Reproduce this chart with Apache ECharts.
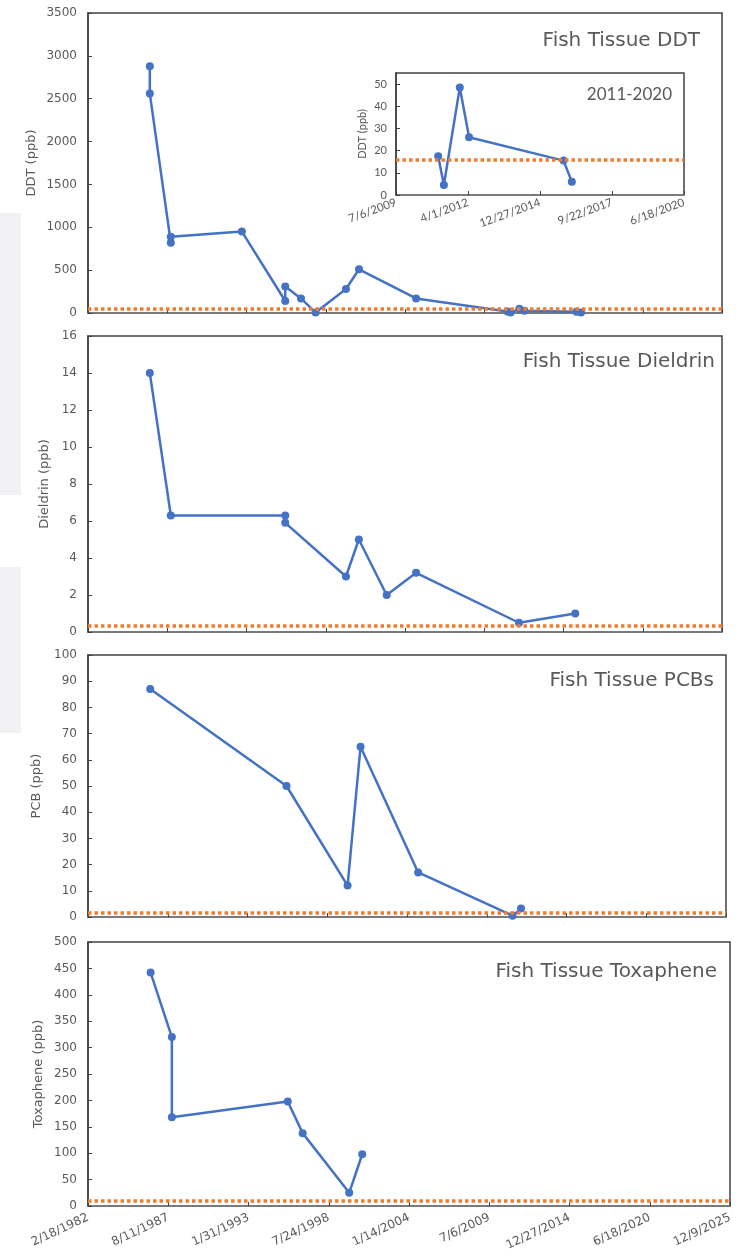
<!DOCTYPE html>
<html><head><meta charset="utf-8">
<script src="https://cdn.jsdelivr.net/npm/echarts@6/dist/echarts.min.js"></script>
<style>html,body{margin:0;padding:0;background:#fff}#c{width:738px;height:1255px}</style>
</head><body><div id="c"></div>
<script>
// x values are Excel date serial numbers (days since 12/30/1899)
const xTickLabels = ['2/18/1982','8/11/1987','1/31/1993','7/24/1998','1/14/2004','7/6/2009','12/27/2014','6/18/2020','12/9/2025'];
const insetTickLabels = ['7/6/2009','4/1/2012','12/27/2014','9/22/2017','6/18/2020'];

const ddtDates  = [31560,31560,32090,32090,33884,34978,34978,35375,35743,36510,36840,38280,40586,40665,40886,41015,42327,42442];
const ddtValues = [2880, 2560, 820,  890,  950,  140,  310,  170,  5,    280,  510,  170,  17.5, 4.5,  48.5, 26,   15.5, 6];
const ddtThreshold = 45;

const insetDates  = [40586,40665,40886,41015,42327,42442];
const insetValues = [17.5, 4.5,  48.5, 26,   15.5, 6];
const insetThreshold = 16;

const dieldrinDates  = [31560,32090,34978,34978,36510,36835,37538,38280,40876,42296];
const dieldrinValues = [14,   6.3,  6.3,  5.9,  3.0,  5.0,  2.0,  3.2,  0.5,  1.0];
const dieldrinThreshold = 0.35;

const pcbDates  = [31560,34978,36510,36835,38280,40647,40859];
const pcbValues = [87,   50,   12,   65,   17,   0.5,  3.2];
const pcbThreshold = 1.5;

const toxDates  = [31560,32090,32090,34978,35350,36510,36835];
const toxValues = [442,  320,  168,  198,  138,  25,   98];
const toxThreshold = 10;

const titles = ['Fish Tissue DDT','Fish Tissue Dieldrin','Fish Tissue PCBs','Fish Tissue Toxaphene','2011-2020'];
const yNames = ['DDT (ppb)','Dieldrin (ppb)','PCB (ppb)','Toxaphene (ppb)','DDT (ppb)'];

const BLUE = '#4472C4', ORANGE = '#ED7D31', TXT = '#595959', FRAME = '#404040';
const FONT = '"DejaVu Sans", sans-serif';
const IFONT = 'Lato, sans-serif';

const grids = [
  {left: 88, right: 16, top: 13, height: 300},
  {left: 88, right: 16, top: 336, height: 296},
  {left: 88, right: 12, top: 655, height: 262},
  {left: 88, right: 8, top: 942, height: 264},
  {left: 396, width: 288, top: 73, height: 122}
].map((g, i) => Object.assign(g, {show: true, borderColor: FRAME, borderWidth: 1.5,
  backgroundColor: i === 4 ? '#fff' : 'transparent', containLabel: false}));

const nameGaps = [50, 37, 45, 43, 28];

function xAxis(idx, labels, showLabels, isInset) {
  return {
    type: 'value', gridIndex: idx,
    min: isInset ? 40000 : 30000, max: isInset ? 44000 : 46000, interval: isInset ? 1000 : 2000,
    axisLine: {show: true, lineStyle: {color: '#7f7f7f', width: 1.5}},
    axisTick: {show: true, inside: true, length: 4, lineStyle: {color: FRAME}},
    splitLine: {show: false},
    axisLabel: {show: showLabels, rotate: isInset ? 20 : 25, color: TXT,
      fontSize: isInset ? 11.5 : 12, fontFamily: isInset ? IFONT : FONT, margin: isInset ? 7 : 11,
      formatter: v => labels[Math.round((v - (isInset ? 40000 : 30000)) / (isInset ? 1000 : 2000))] || ''}
  };
}
function yAxis(idx, max, interval, isInset) {
  return {
    type: 'value', gridIndex: idx, min: 0, max: max, interval: interval,
    name: yNames[idx], nameLocation: 'middle', nameGap: nameGaps[idx], nameRotate: 90,
    nameMoveOverlap: false,
    nameTextStyle: {color: TXT, fontSize: isInset ? 11 : 13, fontFamily: isInset ? IFONT : FONT},
    axisLine: {show: true, lineStyle: {color: FRAME, width: 1.5}},
    axisTick: {show: true, inside: true, length: 4, lineStyle: {color: FRAME}},
    splitLine: {show: false},
    axisLabel: {color: TXT, fontSize: isInset ? 11 : 12, fontFamily: isInset ? IFONT : FONT,
      margin: isInset ? 9 : 11, showMaxLabel: !isInset, formatter: v => String(v)}
  };
}
function series(idx, dates, vals, thr) {
  return {
    type: 'line', xAxisIndex: idx, yAxisIndex: idx, clip: false,
    data: dates.map((d, i) => [d, vals[i]]),
    symbol: 'circle', symbolSize: 8, showSymbol: true,
    lineStyle: {color: BLUE, width: 2.5}, itemStyle: {color: BLUE},
    z: 3,
    markLine: {silent: true, symbol: ['none', 'none'], label: {show: false},
      lineStyle: {color: ORANGE, width: 3.5, type: [3.5, 3], cap: 'butt', opacity: 1},
      emphasis: {disabled: true},
      data: [{yAxis: thr}]}
  };
}

const titleLayout = [
  {right: 38, top: 31, fontSize: 20},
  {right: 23, top: 352, fontSize: 20},
  {right: 24, top: 671, fontSize: 20},
  {right: 21, top: 962, fontSize: 20},
  {right: 66, top: 86, fontSize: 17, inset: true}
];

const option = {
  animation: false,
  backgroundColor: '#fff',
  graphic: [
    {type: 'rect', shape: {x: 0, y: 213, width: 21, height: 282}, style: {fill: '#f2f2f4'}, z: -10},
    {type: 'rect', shape: {x: 0, y: 567, width: 21, height: 166}, style: {fill: '#f2f2f4'}, z: -10}
  ],
  title: titleLayout.map((t, i) => ({text: titles[i], right: t.right, top: t.top, padding: 0,
    textStyle: {color: TXT, fontSize: t.fontSize, fontWeight: 'normal',
      fontFamily: t.inset ? IFONT : FONT}})),
  grid: grids,
  xAxis: [
    xAxis(0, xTickLabels, false, false),
    xAxis(1, xTickLabels, false, false),
    xAxis(2, xTickLabels, false, false),
    xAxis(3, xTickLabels, true, false),
    xAxis(4, insetTickLabels, true, true)
  ],
  yAxis: [
    yAxis(0, 3500, 500, false),
    yAxis(1, 16, 2, false),
    yAxis(2, 100, 10, false),
    yAxis(3, 500, 50, false),
    yAxis(4, 55, 10, true)
  ],
  series: [
    series(0, ddtDates, ddtValues, ddtThreshold),
    series(1, dieldrinDates, dieldrinValues, dieldrinThreshold),
    series(2, pcbDates, pcbValues, pcbThreshold),
    series(3, toxDates, toxValues, toxThreshold),
    series(4, insetDates, insetValues, insetThreshold)
  ]
};
const chart = echarts.init(document.getElementById('c'), null, {renderer: 'canvas'});
chart.setOption(option);
</script>
</body></html>
